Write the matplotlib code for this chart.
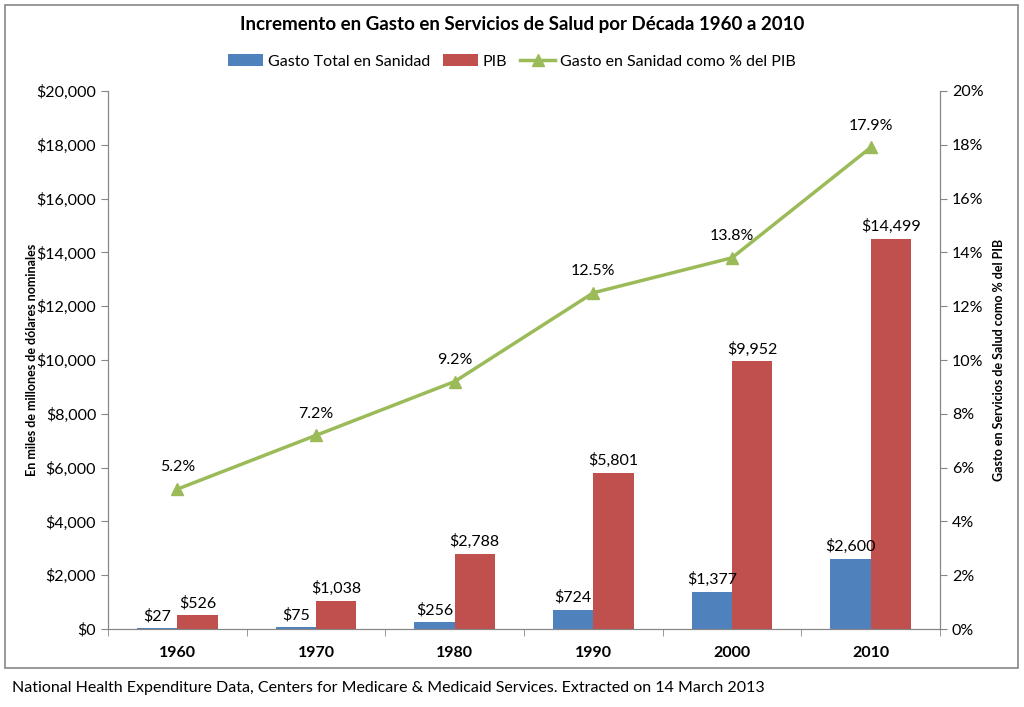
import matplotlib.pyplot as plt
import numpy as np
from matplotlib.patches import Rectangle
from matplotlib.ticker import FuncFormatter

plt.rcParams['font.family'] = ['Lato', 'DejaVu Sans']

# data
decades = ['1960', '1970', '1980', '1990', '2000', '2010']
gasto_sanidad = [27, 75, 256, 724, 1377, 2600]
pib = [526, 1038, 2788, 5801, 9952, 14499]
pct_pib = [5.2, 7.2, 9.2, 12.5, 13.8, 17.9]

blue = '#4F81BD'
red = '#C0504D'
green = '#9BBB59'
axis_gray = '#868686'

fig = plt.figure(figsize=(10.24, 7.07), dpi=100)
ax = fig.add_axes([0.1055, 0.1103, 0.8125, 0.761])
ax2 = ax.twinx()

x = np.arange(len(decades))
w = 0.29
b1 = ax.bar(x - w / 2, gasto_sanidad, width=w, color=blue, label='Gasto Total en Sanidad', zorder=2)
b2 = ax.bar(x + w / 2, pib, width=w, color=red, label='PIB', zorder=2)

for xi, v in zip(x, gasto_sanidad):
    ax.text(xi - w / 2, v + 180, f'${v:,}', ha='center', va='bottom', fontsize=11.5)
for xi, v in zip(x, pib):
    ax.text(xi + w / 2, v + 180, f'${v:,}', ha='center', va='bottom', fontsize=11.5)

line, = ax2.plot(x, pct_pib, color=green, lw=2.5, marker='^', markersize=8,
                 label='Gasto en Sanidad como % del PIB', zorder=3)
for xi, v in zip(x, pct_pib):
    ax2.text(xi, v + 0.55, f'{v:.1f}%', ha='center', va='bottom', fontsize=11.5)

ax.set_xlim(-0.5, len(decades) - 0.5)
ax.set_ylim(0, 20000)
ax.set_yticks(np.arange(0, 20001, 2000))
ax.yaxis.set_major_formatter(FuncFormatter(lambda v, p: f'${v:,.0f}'))
ax2.set_ylim(0, 20)
ax2.set_yticks(np.arange(0, 21, 2))
ax2.yaxis.set_major_formatter(FuncFormatter(lambda v, p: f'{v:.0f}%'))

ax.set_xticks(x)
ax.set_xticklabels(decades, fontweight='bold', fontsize=11.5)
ax.set_xticks(np.arange(-0.5, len(decades), 1), minor=True)
ax.tick_params(axis='x', which='major', length=0, pad=12)
ax.tick_params(axis='x', which='minor', length=5, color=axis_gray)
ax.tick_params(axis='y', length=5, color=axis_gray, labelsize=11.5)
ax2.tick_params(axis='y', length=5, color=axis_gray, labelsize=11.5)

for a in (ax, ax2):
    a.spines['top'].set_visible(False)
    for s in ('left', 'right', 'bottom'):
        a.spines[s].set_color(axis_gray)

ax.set_ylabel('En miles de millones de dólares nominales', fontweight='bold', fontsize=9, labelpad=-1)
ax2.set_ylabel('Gasto en Servicios de Salud como % del PIB', fontweight='bold', fontsize=9, labelpad=7)

fig.text(0.51, 0.965, 'Incremento en Gasto en Servicios de Salud por Década 1960 a 2010',
         ha='center', va='center', fontsize=13.5, fontweight='bold')

fig.legend(handles=[b1, b2, line], loc='center', bbox_to_anchor=(0.5, 0.913), ncol=3,
           frameon=False, fontsize=11.5, handlelength=2.2, handletextpad=0.3, columnspacing=0.8)

fig.patches.append(Rectangle((5 / 1024, 1 - 668 / 707), 1013 / 1024, 663 / 707,
                             transform=fig.transFigure, fill=False, edgecolor=axis_gray, lw=1.2))

fig.text(12 / 1024, 1 - 688 / 707,
         'National Health Expenditure Data, Centers for Medicare & Medicaid Services. Extracted on 14 March 2013',
         ha='left', va='center', fontsize=11.5)

fig.savefig('out.png', dpi=100)
